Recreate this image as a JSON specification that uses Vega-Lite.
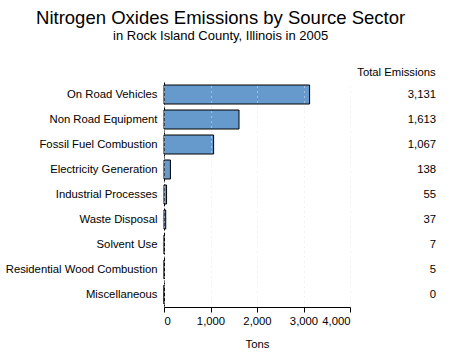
{
  "$schema": "https://vega.github.io/schema/vega-lite/v6.json",
  "padding": {"left": 5, "right": 5, "top": 8, "bottom": 5},
  "title": {
    "text": "Nitrogen Oxides Emissions by Source Sector",
    "subtitle": "in Rock Island County, Illinois in 2005",
    "anchor": "middle",
    "font": "Liberation Sans",
    "fontSize": 18.5,
    "fontWeight": "normal",
    "color": "black",
    "subtitleFont": "Liberation Sans",
    "subtitleFontSize": 13,
    "subtitleColor": "black",
    "subtitlePadding": 3,
    "offset": 23
  },
  "data": {
    "values": [
      {"sector": "On Road Vehicles", "tons": 3131, "column": "Total Emissions"},
      {"sector": "Non Road Equipment", "tons": 1613, "column": "Total Emissions"},
      {"sector": "Fossil Fuel Combustion", "tons": 1067, "column": "Total Emissions"},
      {"sector": "Electricity Generation", "tons": 138, "column": "Total Emissions"},
      {"sector": "Industrial Processes", "tons": 55, "column": "Total Emissions"},
      {"sector": "Waste Disposal", "tons": 37, "column": "Total Emissions"},
      {"sector": "Solvent Use", "tons": 7, "column": "Total Emissions"},
      {"sector": "Residential Wood Combustion", "tons": 5, "column": "Total Emissions"},
      {"sector": "Miscellaneous", "tons": 0, "column": "Total Emissions"}
    ]
  },
  "spacing": 5,
  "hconcat": [
    {
      "width": 186,
      "height": 225,
      "mark": {"type": "bar", "fill": "#6699cc", "stroke": "black", "strokeWidth": 1},
      "encoding": {
        "y": {
          "field": "sector",
          "type": "nominal",
          "sort": {"field": "tons", "order": "descending"},
          "scale": {"paddingInner": 0.24, "paddingOuter": 0.12},
          "axis": {
            "title": null,
            "ticks": false,
            "domainColor": "black",
            "domainDash": [4, 2],
            "labelFont": "Liberation Sans",
            "labelFontSize": 11.3,
            "labelColor": "black",
            "labelPadding": 7,
            "grid": false
          }
        },
        "x": {
          "field": "tons",
          "type": "quantitative",
          "scale": {"domain": [0, 4000], "nice": false},
          "axis": {
            "title": "Tons",
            "titleFont": "Liberation Sans",
            "titleFontSize": 11.3,
            "titleFontWeight": "normal",
            "titleColor": "black",
            "titlePadding": 12,
            "values": [0, 1000, 2000, 3000, 4000],
            "format": ",d",
            "labelFont": "Liberation Sans",
            "labelFontSize": 11.3,
            "labelColor": "black",
            "labelPadding": 3,
            "domainColor": "black",
            "tickColor": "black",
            "tickSize": 5,
            "grid": true,
            "gridColor": "#e4e4e4",
            "gridDash": [1, 4],
            "zindex": 1
          }
        }
      }
    },
    {
      "width": 80,
      "height": 225,
      "mark": {"type": "text", "align": "right", "dx": 40, "font": "Liberation Sans", "fontSize": 11.3, "color": "black"},
      "encoding": {
        "y": {
          "field": "sector",
          "type": "nominal",
          "sort": {"field": "tons", "order": "descending"},
          "scale": {"paddingInner": 0.24, "paddingOuter": 0.12},
          "axis": null
        },
        "x": {
          "field": "column",
          "type": "nominal",
          "axis": {
            "orient": "top",
            "title": null,
            "domain": false,
            "ticks": false,
            "labelAngle": 0,
            "labelFont": "Liberation Sans",
            "labelFontSize": 11.3,
            "labelColor": "black",
            "labelPadding": 5
          }
        },
        "text": {"field": "tons", "type": "quantitative", "format": ","}
      }
    }
  ],
  "config": {
    "view": {"stroke": null},
    "background": "white"
  }
}
